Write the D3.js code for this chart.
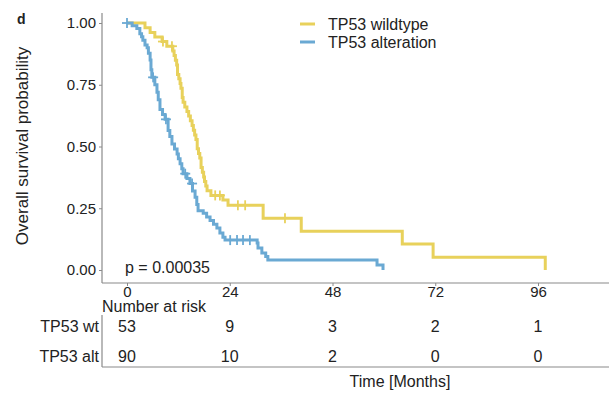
<!DOCTYPE html>
<html lang="en">
<head>
<meta charset="utf-8">
<title>Overall survival TP53</title>
<script src="https://cdn.jsdelivr.net/npm/d3@7"></script>
<style>
  body { margin: 0; background: #fff; }
  svg { display: block; font-family: "Liberation Sans", Arial, sans-serif; }
</style>
</head>
<body>
<div id="chart"></div>
<script>
(function(d3) {
  'use strict';

  // step points of the Kaplan-Meier curves (months, survival)
  var wtTime = [0, 4.2, 5.4, 6.5, 8.2, 9.3, 10.7, 11.0, 11.3, 11.6, 11.8, 12.1, 12.4, 12.6, 12.9, 13.1, 13.5, 14.0, 14.4, 14.8, 15.2, 15.5, 15.8, 16.1, 16.4, 16.7, 17.0, 17.3, 17.6, 17.9, 18.1, 18.4, 18.7, 19.6, 22.4, 23.6, 31.8, 40.7, 64.3, 71.5, 97.7];
  var wtSurv = [1, 0.981, 0.962, 0.943, 0.925, 0.906, 0.887, 0.868, 0.849, 0.83, 0.792, 0.774, 0.755, 0.736, 0.698, 0.679, 0.66, 0.642, 0.623, 0.604, 0.585, 0.566, 0.547, 0.528, 0.491, 0.472, 0.453, 0.415, 0.396, 0.377, 0.358, 0.34, 0.321, 0.302, 0.283, 0.262, 0.21, 0.157, 0.105, 0.052, 0];
  var wtCensor = [8.4, 10.5, 20.6, 21.7, 25.9, 27.6, 36.9];

  var altTime = [0, 1.2, 2.3, 3.0, 3.4, 3.7, 4.2, 4.7, 5.0, 5.4, 5.6, 5.8, 6.5, 7.0, 7.3, 7.7, 8.3, 8.9, 9.6, 10.0, 10.5, 11.1, 11.7, 12.0, 12.4, 12.8, 13.1, 14.0, 14.7, 15.3, 15.9, 16.3, 16.6, 17.8, 18.6, 19.4, 20.2, 21.0, 21.7, 22.4, 22.9, 30.4, 30.6, 31.5, 32.4, 32.9, 58.4, 59.8];
  var altSurv = [1, 0.989, 0.978, 0.956, 0.944, 0.93, 0.911, 0.9, 0.878, 0.85, 0.811, 0.78, 0.75, 0.72, 0.689, 0.65, 0.63, 0.61, 0.565, 0.54, 0.51, 0.49, 0.47, 0.45, 0.43, 0.41, 0.39, 0.37, 0.35, 0.32, 0.295, 0.265, 0.24, 0.23, 0.215, 0.2, 0.185, 0.17, 0.15, 0.133, 0.121, 0.109, 0.089, 0.069, 0.055, 0.04, 0.02, 0];
  var altCensor = [0, 6.1, 9.1, 13.6, 15.2, 24.1, 25.7, 27.1, 28.7];

  var yTicks = [0, 0.25, 0.5, 0.75, 1];
  var xTicks = [0, 24, 48, 72, 96];
  var riskTimes = [0, 24, 48, 72, 96];
  var riskWt = [53, 9, 3, 2, 1];
  var riskAlt = [90, 10, 2, 0, 0];

  var yellow = '#E8D15B';
  var blue = '#6AA9D3';

  var width = 609, height = 395;

  var svg = d3.select('#chart').append('svg')
    .attr('width', width)
    .attr('height', height);

  var x = d3.scaleLinear().domain([0, 96]).range([127, 538]);
  var y = d3.scaleLinear().domain([0, 1]).range([270, 23]);

  // axes
  svg.append('line').attr('x1', 102).attr('x2', 102).attr('y1', 13).attr('y2', 283)
    .attr('stroke', '#8a8a8a').attr('stroke-width', 1.2);
  svg.append('line').attr('x1', 102).attr('x2', width).attr('y1', 283).attr('y2', 283)
    .attr('stroke', '#8a8a8a').attr('stroke-width', 1.2);

  var yAxis = svg.append('g')
    .attr('transform', 'translate(102,0)')
    .call(d3.axisLeft(y).tickValues(yTicks).tickFormat(d3.format('.2f')).tickSize(3).tickPadding(3));
  yAxis.select('.domain').remove();
  yAxis.selectAll('line').attr('stroke', '#8a8a8a');
  yAxis.selectAll('text').attr('font-size', 15).attr('fill', '#222').attr('font-family', 'Liberation Sans, Arial, sans-serif');

  var xAxis = svg.append('g')
    .attr('transform', 'translate(0,283)')
    .call(d3.axisBottom(x).tickValues(xTicks).tickSize(3).tickPadding(0));
  xAxis.select('.domain').remove();
  xAxis.selectAll('line').attr('stroke', '#8a8a8a');
  xAxis.selectAll('text').attr('font-size', 15).attr('fill', '#222').attr('font-family', 'Liberation Sans, Arial, sans-serif');

  // curves
  var line = d3.line()
    .x(function(d) { return x(d[0]); })
    .y(function(d) { return y(d[1]); })
    .curve(d3.curveStepAfter);

  function survAt(times, surv, t) {
    var i = d3.bisectRight(times, t) - 1;
    return surv[Math.max(i, 0)];
  }

  function drawCurve(times, surv, censor, color) {
    svg.append('path')
      .datum(d3.zip(times, surv))
      .attr('d', line)
      .attr('fill', 'none')
      .attr('stroke', color)
      .attr('stroke-width', 3);
    var g = svg.append('g');
    censor.forEach(function(t) {
      var cx = x(t), cy = y(survAt(times, surv, t));
      g.append('line').attr('x1', cx).attr('x2', cx).attr('y1', cy - 5).attr('y2', cy + 5)
        .attr('stroke', color).attr('stroke-width', 1.8);
      g.append('line').attr('x1', cx - 5).attr('x2', cx + 5).attr('y1', cy).attr('y2', cy)
        .attr('stroke', color).attr('stroke-width', 1.8);
    });
  }

  drawCurve(wtTime, wtSurv, wtCensor, yellow);
  drawCurve(altTime, altSurv, altCensor, blue);

  // legend
  var legend = [{ label: 'TP53 wildtype', color: yellow }, { label: 'TP53 alteration', color: blue }];
  legend.forEach(function(d, i) {
    var ly = 24 + i * 18;
    svg.append('line').attr('x1', 300).attr('x2', 315).attr('y1', ly).attr('y2', ly)
      .attr('stroke', d.color).attr('stroke-width', 3);
    svg.append('text').attr('x', 328).attr('y', ly + 6)
      .attr('font-size', 16).attr('fill', '#222').text(d.label);
  });

  // labels
  svg.append('text').attr('x', 17).attr('y', 24)
    .attr('font-size', 14).attr('font-weight', 'bold').attr('fill', '#222').text('d');
  svg.append('text')
    .attr('transform', 'translate(28,146) rotate(-90)')
    .attr('text-anchor', 'middle')
    .attr('font-size', 17).attr('fill', '#222')
    .text('Overall survival probability');
  svg.append('text').attr('x', 125).attr('y', 273)
    .attr('font-size', 16).attr('fill', '#222').text('p = 0.00035');

  // risk table
  svg.append('text').attr('x', 102).attr('y', 312)
    .attr('font-size', 16).attr('fill', '#222').text('Number at risk');
  svg.append('line').attr('x1', 102).attr('x2', 102).attr('y1', 315).attr('y2', 367)
    .attr('stroke', '#8a8a8a').attr('stroke-width', 1.2);
  svg.append('line').attr('x1', 102).attr('x2', width).attr('y1', 367).attr('y2', 367)
    .attr('stroke', '#8a8a8a').attr('stroke-width', 1.2);

  var rows = [{ label: 'TP53 wt', values: riskWt, y: 332 }, { label: 'TP53 alt', values: riskAlt, y: 362 }];
  rows.forEach(function(r) {
    svg.append('text').attr('x', 99).attr('y', r.y).attr('text-anchor', 'end')
      .attr('font-size', 16).attr('fill', '#222').text(r.label);
    svg.append('g').selectAll('text')
      .data(r.values)
      .enter()
      .append('text')
      .attr('x', function(d, i) { return x(riskTimes[i]); })
      .attr('y', r.y)
      .attr('text-anchor', 'middle')
      .attr('font-size', 16).attr('fill', '#222')
      .text(function(d) { return d; });
  });

  svg.append('text').attr('x', 400).attr('y', 387)
    .attr('text-anchor', 'middle')
    .attr('font-size', 16).attr('fill', '#222').text('Time [Months]');

})(window.d3);
</script>
</body>
</html>
